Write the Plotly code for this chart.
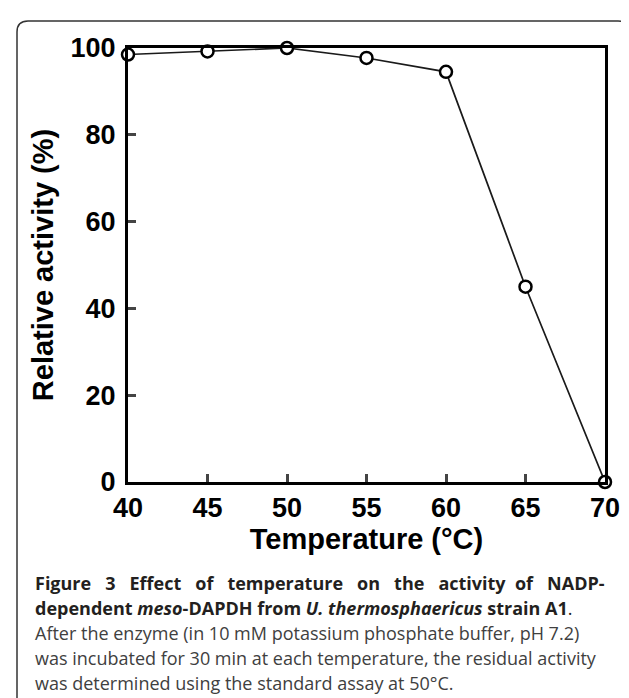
import plotly.graph_objects as go

temperature = [40, 45, 50, 55, 60, 65, 70]
activity = [98.5, 99.2, 100, 97.7, 94.5, 45, 0]
x_ticks = [40, 45, 50, 55, 60, 65, 70]
y_ticks = [0, 20, 40, 60, 80, 100]

W, H = 629, 698
L, R, T, B = 120, 32, 40, 224
pw, ph = W - L - R, H - T - B

def px(x):
    return (x - L) / pw

def py(y):
    return (H - B - y) / ph

fig = go.Figure()
fig.add_trace(go.Scatter(
    x=temperature, y=activity, mode="lines+markers",
    line=dict(color="#1a1a1a", width=1.7),
    marker=dict(symbol="circle", size=12, color="white",
                line=dict(color="black", width=2.5)),
    cliponaxis=False, showlegend=False))

fam = "Liberation Sans, Arial"
axis_font = dict(family=fam, size=27, color="black", weight="bold")
title_font = dict(family=fam, size=29, color="black", weight="bold")
common = dict(ticks="inside", ticklen=8, tickwidth=2.5, showline=True,
              linewidth=3, linecolor="black", mirror=True, showgrid=False,
              zeroline=False, tickfont=axis_font)
fig.update_xaxes(range=[40, 70], tickvals=x_ticks, ticktext=[str(v) for v in x_ticks],
                 title=dict(text="Temperature (°C)", font=title_font, standoff=6),
                 **common)
fig.update_yaxes(range=[0, 100], tickvals=y_ticks, ticktext=[str(v) for v in y_ticks],
                 ticklabelstandoff=4,
                 title=dict(text="Relative activity (%)", font=title_font, standoff=9),
                 **common)

# rounded border box
x0, x1, y0, y1, r = 9, 621, 13, 720, 11
rx, ry = r / pw, r / ph
path = (f"M {px(x0)},{py(y1)} L {px(x0)},{py(y0)-ry} "
        f"Q {px(x0)},{py(y0)} {px(x0)+rx},{py(y0)} "
        f"L {px(x1)-rx},{py(y0)} Q {px(x1)},{py(y0)} {px(x1)},{py(y0)-ry} "
        f"L {px(x1)},{py(y1)}")
fig.add_shape(type="path", path=path, xref="paper", yref="paper",
              line=dict(color="#333", width=1.5), layer="below")

bold_font = dict(family="Open Sans", size=18, color="#231f20")
reg_font = dict(family="Open Sans", size=18, color="#404040")
words = "Figure 3 Effect of temperature on the activity of NADP-".split(" ")
gaps = [3, 3, 3, 3, 3, 3, 3, 2, 3]
line1 = words[0] + "".join(" " * g + w for g, w in zip(gaps, words[1:]))
lines = [
    (f"<b>{line1}</b>", 575, bold_font),
    ("<b>dependent <i>meso</i>-DAPDH from <i>U. thermosphaericus</i> strain A1</b>.", 600, bold_font),
    ("After the enzyme (in 10 mM potassium phosphate buffer, pH 7.2)", 625, reg_font),
    ("was incubated for 30 min at each temperature, the residual activity", 650, reg_font),
    ("was determined using the standard assay at 50°C.", 675, reg_font),
]
for text, yy, f in lines:
    fig.add_annotation(text=text, xref="paper", yref="paper", x=px(25), y=py(yy),
                       xanchor="left", yanchor="middle", showarrow=False, font=f)

fig.update_layout(width=W, height=H, margin=dict(l=L, r=R, t=T, b=B),
                  plot_bgcolor="white", paper_bgcolor="white")
fig.write_html("out.html")
